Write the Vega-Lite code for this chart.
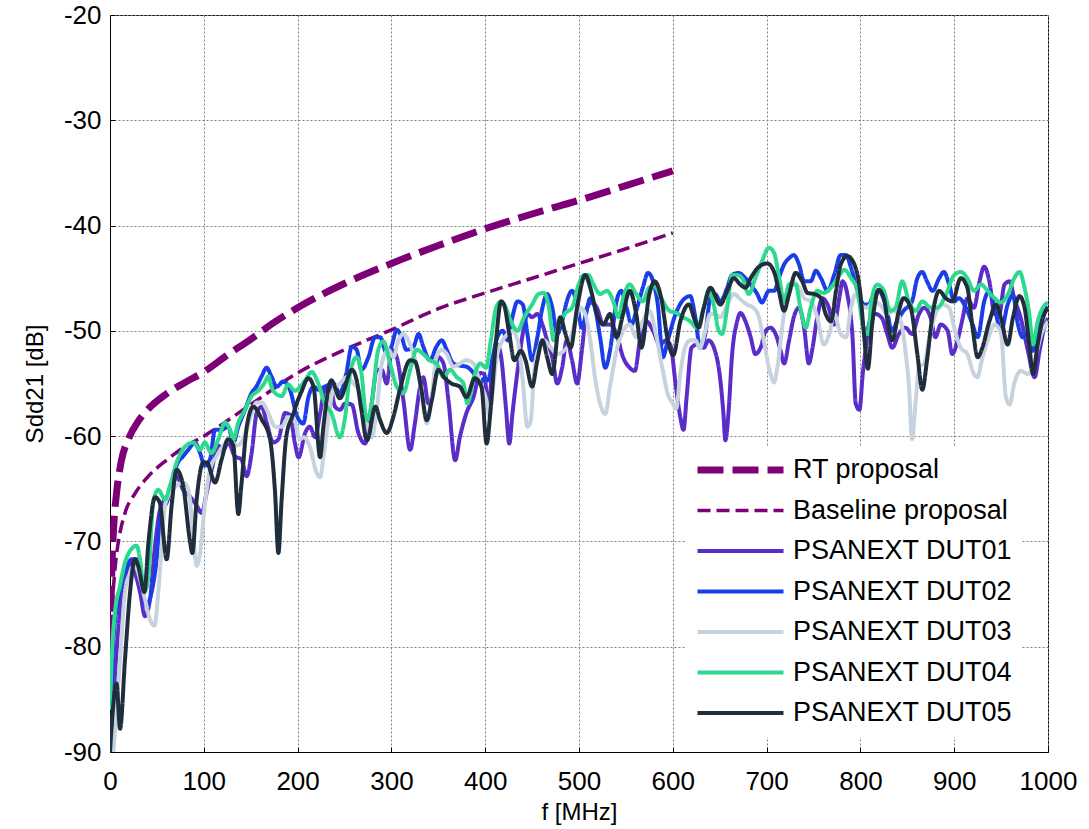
{
"$schema":"https://vega.github.io/schema/vega-lite/v6.json",
"width":938,"height":737,
"autosize":{"type":"none"},
"padding":{"left":110,"top":15,"right":41,"bottom":77},
"background":"white",
"config":{
 "font":"Liberation Sans",
 "view":{"stroke":"#000","strokeWidth":1},
 "axis":{"domainColor":"#000","domainWidth":1,"tickColor":"#000","tickSize":-5,"labelColor":"#000","titleColor":"#000","labelFontSize":26,"titleFontSize":24,"titleFontWeight":"normal","gridColor":"#808080","gridDash":[2,2],"gridWidth":1}
},
"data":{"values":[
{"series":"RT proposal","f":0.5,"db":-80},{"series":"RT proposal","f":1,"db":-76.5},{"series":"RT proposal","f":2,"db":-72.5},{"series":"RT proposal","f":4,"db":-68.5},{"series":"RT proposal","f":7,"db":-65.4},{"series":"RT proposal","f":12,"db":-62.4},{"series":"RT proposal","f":20,"db":-60.2},{"series":"RT proposal","f":30,"db":-58.6},{"series":"RT proposal","f":40,"db":-57.5},{"series":"RT proposal","f":60,"db":-56},{"series":"RT proposal","f":80,"db":-54.9},{"series":"RT proposal","f":100,"db":-53.9},{"series":"RT proposal","f":125,"db":-52.3},{"series":"RT proposal","f":150,"db":-50.8},{"series":"RT proposal","f":175,"db":-49.2},{"series":"RT proposal","f":200,"db":-47.8},{"series":"RT proposal","f":250,"db":-45.5},{"series":"RT proposal","f":300,"db":-43.6},{"series":"RT proposal","f":350,"db":-41.9},{"series":"RT proposal","f":400,"db":-40.3},{"series":"RT proposal","f":450,"db":-38.9},{"series":"RT proposal","f":500,"db":-37.6},{"series":"RT proposal","f":550,"db":-36.2},{"series":"RT proposal","f":600,"db":-34.8},
{"series":"Baseline proposal","f":1,"db":-80},{"series":"Baseline proposal","f":2,"db":-77},{"series":"Baseline proposal","f":4,"db":-74},{"series":"Baseline proposal","f":6,"db":-72},{"series":"Baseline proposal","f":9,"db":-70},{"series":"Baseline proposal","f":16,"db":-67.3},{"series":"Baseline proposal","f":27,"db":-65.4},{"series":"Baseline proposal","f":41,"db":-63.8},{"series":"Baseline proposal","f":60,"db":-62.3},{"series":"Baseline proposal","f":80,"db":-61},{"series":"Baseline proposal","f":100,"db":-60},{"series":"Baseline proposal","f":150,"db":-57},{"series":"Baseline proposal","f":200,"db":-54},{"series":"Baseline proposal","f":250,"db":-51.8},{"series":"Baseline proposal","f":300,"db":-49.9},{"series":"Baseline proposal","f":350,"db":-47.9},{"series":"Baseline proposal","f":400,"db":-46.4},{"series":"Baseline proposal","f":450,"db":-45},{"series":"Baseline proposal","f":500,"db":-43.6},{"series":"Baseline proposal","f":550,"db":-42.2},{"series":"Baseline proposal","f":600,"db":-40.7},
{"series":"PSANEXT DUT01","f":1.8,"db":-88.4},{"series":"PSANEXT DUT01","f":5.3,"db":-82.7},{"series":"PSANEXT DUT01","f":10.7,"db":-76.7},{"series":"PSANEXT DUT01","f":16,"db":-73.6},{"series":"PSANEXT DUT01","f":21.3,"db":-72},{"series":"PSANEXT DUT01","f":26.7,"db":-73},{"series":"PSANEXT DUT01","f":32,"db":-74.8},{"series":"PSANEXT DUT01","f":37.3,"db":-77.1},{"series":"PSANEXT DUT01","f":42.6,"db":-75.5},{"series":"PSANEXT DUT01","f":48,"db":-70.4},{"series":"PSANEXT DUT01","f":53.3,"db":-67},{"series":"PSANEXT DUT01","f":58.6,"db":-66},{"series":"PSANEXT DUT01","f":65.7,"db":-65.1},{"series":"PSANEXT DUT01","f":71,"db":-63.8},{"series":"PSANEXT DUT01","f":78,"db":-65.1},{"series":"PSANEXT DUT01","f":85,"db":-65.7},{"series":"PSANEXT DUT01","f":92.4,"db":-66.6},{"series":"PSANEXT DUT01","f":97.7,"db":-67.3},{"series":"PSANEXT DUT01","f":103,"db":-65.4},{"series":"PSANEXT DUT01","f":108.4,"db":-63.2},{"series":"PSANEXT DUT01","f":115.5,"db":-60.9},{"series":"PSANEXT DUT01","f":120.8,"db":-61.3},{"series":"PSANEXT DUT01","f":126,"db":-60.6},{"series":"PSANEXT DUT01","f":133,"db":-61.9},{"series":"PSANEXT DUT01","f":140,"db":-62.2},{"series":"PSANEXT DUT01","f":145.7,"db":-63.8},{"series":"PSANEXT DUT01","f":151,"db":-61.6},{"series":"PSANEXT DUT01","f":156.4,"db":-57.8},{"series":"PSANEXT DUT01","f":161.7,"db":-57.2},{"series":"PSANEXT DUT01","f":167,"db":-58.7},{"series":"PSANEXT DUT01","f":174,"db":-60.6},{"series":"PSANEXT DUT01","f":179.5,"db":-60.3},{"series":"PSANEXT DUT01","f":186.6,"db":-57.8},{"series":"PSANEXT DUT01","f":192,"db":-58},{"series":"PSANEXT DUT01","f":197,"db":-60.6},{"series":"PSANEXT DUT01","f":201,"db":-62},{"series":"PSANEXT DUT01","f":208,"db":-59.7},{"series":"PSANEXT DUT01","f":213,"db":-59.1},{"series":"PSANEXT DUT01","f":218.7,"db":-60.1},{"series":"PSANEXT DUT01","f":224,"db":-57.8},{"series":"PSANEXT DUT01","f":229,"db":-55.6},{"series":"PSANEXT DUT01","f":234.6,"db":-55.3},{"series":"PSANEXT DUT01","f":240,"db":-57.2},{"series":"PSANEXT DUT01","f":245.3,"db":-57.5},{"series":"PSANEXT DUT01","f":250.6,"db":-56.9},{"series":"PSANEXT DUT01","f":257.7,"db":-57},{"series":"PSANEXT DUT01","f":264.8,"db":-59.7},{"series":"PSANEXT DUT01","f":272,"db":-60.7},{"series":"PSANEXT DUT01","f":279,"db":-56.9},{"series":"PSANEXT DUT01","f":284.4,"db":-53.7},{"series":"PSANEXT DUT01","f":289.7,"db":-53.7},{"series":"PSANEXT DUT01","f":295,"db":-55},{"series":"PSANEXT DUT01","f":300.4,"db":-51.8},{"series":"PSANEXT DUT01","f":305.7,"db":-52.5},{"series":"PSANEXT DUT01","f":312.8,"db":-56.6},{"series":"PSANEXT DUT01","f":320,"db":-61.3},{"series":"PSANEXT DUT01","f":325,"db":-58.8},{"series":"PSANEXT DUT01","f":330.6,"db":-55.3},{"series":"PSANEXT DUT01","f":334,"db":-54.4},{"series":"PSANEXT DUT01","f":339.5,"db":-56.9},{"series":"PSANEXT DUT01","f":344.8,"db":-55.6},{"series":"PSANEXT DUT01","f":350,"db":-52.5},{"series":"PSANEXT DUT01","f":355.5,"db":-53.1},{"series":"PSANEXT DUT01","f":360.8,"db":-56.6},{"series":"PSANEXT DUT01","f":368,"db":-62.3},{"series":"PSANEXT DUT01","f":373,"db":-60.1},{"series":"PSANEXT DUT01","f":380,"db":-57.8},{"series":"PSANEXT DUT01","f":387.5,"db":-56.3},{"series":"PSANEXT DUT01","f":394.6,"db":-54},{"series":"PSANEXT DUT01","f":399,"db":-54.1},{"series":"PSANEXT DUT01","f":403,"db":-57.2},{"series":"PSANEXT DUT01","f":408,"db":-53.5},{"series":"PSANEXT DUT01","f":413,"db":-51.3},{"series":"PSANEXT DUT01","f":417,"db":-52.5},{"series":"PSANEXT DUT01","f":422,"db":-57.2},{"series":"PSANEXT DUT01","f":425.7,"db":-60.7},{"series":"PSANEXT DUT01","f":429,"db":-57.9},{"series":"PSANEXT DUT01","f":434.5,"db":-53.8},{"series":"PSANEXT DUT01","f":440,"db":-50.3},{"series":"PSANEXT DUT01","f":445,"db":-48.4},{"series":"PSANEXT DUT01","f":450,"db":-48.7},{"series":"PSANEXT DUT01","f":455.6,"db":-48.4},{"series":"PSANEXT DUT01","f":461,"db":-49.4},{"series":"PSANEXT DUT01","f":466,"db":-50.9},{"series":"PSANEXT DUT01","f":471.5,"db":-52.5},{"series":"PSANEXT DUT01","f":476.8,"db":-55},{"series":"PSANEXT DUT01","f":482,"db":-53.5},{"series":"PSANEXT DUT01","f":487,"db":-50.9},{"series":"PSANEXT DUT01","f":492.6,"db":-52.8},{"series":"PSANEXT DUT01","f":498,"db":-55},{"series":"PSANEXT DUT01","f":503,"db":-51.9},{"series":"PSANEXT DUT01","f":508.5,"db":-47.8},{"series":"PSANEXT DUT01","f":514,"db":-47.3},{"series":"PSANEXT DUT01","f":519,"db":-47.8},{"series":"PSANEXT DUT01","f":526,"db":-49.4},{"series":"PSANEXT DUT01","f":533,"db":-49.4},{"series":"PSANEXT DUT01","f":540,"db":-50.3},{"series":"PSANEXT DUT01","f":547,"db":-52.5},{"series":"PSANEXT DUT01","f":554,"db":-53.5},{"series":"PSANEXT DUT01","f":559.5,"db":-53.8},{"series":"PSANEXT DUT01","f":565,"db":-50.9},{"series":"PSANEXT DUT01","f":572,"db":-49.1},{"series":"PSANEXT DUT01","f":579,"db":-50},{"series":"PSANEXT DUT01","f":586,"db":-51.3},{"series":"PSANEXT DUT01","f":593,"db":-50.9},{"series":"PSANEXT DUT01","f":598,"db":-51.5},{"series":"PSANEXT DUT01","f":602.5,"db":-54.7},{"series":"PSANEXT DUT01","f":608,"db":-58.2},{"series":"PSANEXT DUT01","f":611.4,"db":-59.4},{"series":"PSANEXT DUT01","f":615,"db":-56},{"series":"PSANEXT DUT01","f":620,"db":-51.6},{"series":"PSANEXT DUT01","f":625.7,"db":-51.3},{"series":"PSANEXT DUT01","f":633,"db":-51.6},{"series":"PSANEXT DUT01","f":638,"db":-50.9},{"series":"PSANEXT DUT01","f":645,"db":-51.9},{"series":"PSANEXT DUT01","f":650.7,"db":-54.7},{"series":"PSANEXT DUT01","f":654,"db":-57.9},{"series":"PSANEXT DUT01","f":656,"db":-60.4},{"series":"PSANEXT DUT01","f":659.6,"db":-57.5},{"series":"PSANEXT DUT01","f":663,"db":-52.5},{"series":"PSANEXT DUT01","f":668.6,"db":-49.1},{"series":"PSANEXT DUT01","f":672,"db":-48.3},{"series":"PSANEXT DUT01","f":677.5,"db":-49.1},{"series":"PSANEXT DUT01","f":683,"db":-50.6},{"series":"PSANEXT DUT01","f":688,"db":-52.2},{"series":"PSANEXT DUT01","f":693.6,"db":-51.6},{"series":"PSANEXT DUT01","f":699,"db":-50},{"series":"PSANEXT DUT01","f":704,"db":-49.7},{"series":"PSANEXT DUT01","f":709.6,"db":-50.3},{"series":"PSANEXT DUT01","f":715,"db":-51.9},{"series":"PSANEXT DUT01","f":718.6,"db":-53.1},{"series":"PSANEXT DUT01","f":724,"db":-50.9},{"series":"PSANEXT DUT01","f":729,"db":-48.7},{"series":"PSANEXT DUT01","f":734.6,"db":-47.8},{"series":"PSANEXT DUT01","f":740,"db":-49.7},{"series":"PSANEXT DUT01","f":745,"db":-53.1},{"series":"PSANEXT DUT01","f":749,"db":-51.6},{"series":"PSANEXT DUT01","f":754,"db":-48.7},{"series":"PSANEXT DUT01","f":759.6,"db":-46.9},{"series":"PSANEXT DUT01","f":765,"db":-47.5},{"series":"PSANEXT DUT01","f":772,"db":-49.4},{"series":"PSANEXT DUT01","f":777.5,"db":-46.9},{"series":"PSANEXT DUT01","f":781,"db":-45.3},{"series":"PSANEXT DUT01","f":786,"db":-46.5},{"series":"PSANEXT DUT01","f":791.8,"db":-50.9},{"series":"PSANEXT DUT01","f":795,"db":-56.9},{"series":"PSANEXT DUT01","f":799,"db":-57.5},{"series":"PSANEXT DUT01","f":802.5,"db":-54.1},{"series":"PSANEXT DUT01","f":806,"db":-51.5},{"series":"PSANEXT DUT01","f":809,"db":-49.4},{"series":"PSANEXT DUT01","f":816,"db":-48.4},{"series":"PSANEXT DUT01","f":823,"db":-48.8},{"series":"PSANEXT DUT01","f":828.6,"db":-50.3},{"series":"PSANEXT DUT01","f":834,"db":-51.6},{"series":"PSANEXT DUT01","f":841,"db":-50.3},{"series":"PSANEXT DUT01","f":848,"db":-49.7},{"series":"PSANEXT DUT01","f":855,"db":-50.3},{"series":"PSANEXT DUT01","f":862.5,"db":-48.4},{"series":"PSANEXT DUT01","f":868,"db":-47.8},{"series":"PSANEXT DUT01","f":875,"db":-48.8},{"series":"PSANEXT DUT01","f":880,"db":-50.6},{"series":"PSANEXT DUT01","f":885.7,"db":-49.4},{"series":"PSANEXT DUT01","f":893,"db":-50},{"series":"PSANEXT DUT01","f":898,"db":-52.2},{"series":"PSANEXT DUT01","f":903.6,"db":-50.9},{"series":"PSANEXT DUT01","f":909,"db":-48.8},{"series":"PSANEXT DUT01","f":914,"db":-46.9},{"series":"PSANEXT DUT01","f":921,"db":-47.8},{"series":"PSANEXT DUT01","f":927,"db":-45.3},{"series":"PSANEXT DUT01","f":932,"db":-43.9},{"series":"PSANEXT DUT01","f":937.5,"db":-45.3},{"series":"PSANEXT DUT01","f":943,"db":-48.4},{"series":"PSANEXT DUT01","f":948,"db":-48.4},{"series":"PSANEXT DUT01","f":953.6,"db":-45.6},{"series":"PSANEXT DUT01","f":959,"db":-45.3},{"series":"PSANEXT DUT01","f":964,"db":-46.9},{"series":"PSANEXT DUT01","f":971,"db":-48.8},{"series":"PSANEXT DUT01","f":978.6,"db":-51.9},{"series":"PSANEXT DUT01","f":985.7,"db":-54.4},{"series":"PSANEXT DUT01","f":991,"db":-51.9},{"series":"PSANEXT DUT01","f":996,"db":-49.7},{"series":"PSANEXT DUT01","f":1000,"db":-48.8},
{"series":"PSANEXT DUT02","f":2,"db":-84},{"series":"PSANEXT DUT02","f":3.5,"db":-79.6},{"series":"PSANEXT DUT02","f":8.9,"db":-75.5},{"series":"PSANEXT DUT02","f":16,"db":-73},{"series":"PSANEXT DUT02","f":23,"db":-71.7},{"series":"PSANEXT DUT02","f":28.4,"db":-71.7},{"series":"PSANEXT DUT02","f":33.8,"db":-74.2},{"series":"PSANEXT DUT02","f":39,"db":-76.1},{"series":"PSANEXT DUT02","f":44.4,"db":-74.8},{"series":"PSANEXT DUT02","f":49.8,"db":-71.7},{"series":"PSANEXT DUT02","f":55,"db":-67},{"series":"PSANEXT DUT02","f":60.4,"db":-66.3},{"series":"PSANEXT DUT02","f":65.7,"db":-64.7},{"series":"PSANEXT DUT02","f":71,"db":-62.8},{"series":"PSANEXT DUT02","f":78,"db":-61.9},{"series":"PSANEXT DUT02","f":83.5,"db":-61.3},{"series":"PSANEXT DUT02","f":90.6,"db":-60.6},{"series":"PSANEXT DUT02","f":96,"db":-61.6},{"series":"PSANEXT DUT02","f":101,"db":-62.8},{"series":"PSANEXT DUT02","f":106.6,"db":-62.2},{"series":"PSANEXT DUT02","f":112,"db":-59.4},{"series":"PSANEXT DUT02","f":119,"db":-59.4},{"series":"PSANEXT DUT02","f":126,"db":-59.1},{"series":"PSANEXT DUT02","f":131.5,"db":-60.6},{"series":"PSANEXT DUT02","f":136.8,"db":-59.1},{"series":"PSANEXT DUT02","f":144,"db":-57.5},{"series":"PSANEXT DUT02","f":151,"db":-55.9},{"series":"PSANEXT DUT02","f":156,"db":-55.3},{"series":"PSANEXT DUT02","f":161.7,"db":-54.3},{"series":"PSANEXT DUT02","f":167,"db":-53.5},{"series":"PSANEXT DUT02","f":172,"db":-54.3},{"series":"PSANEXT DUT02","f":177.7,"db":-55.3},{"series":"PSANEXT DUT02","f":184.8,"db":-54.8},{"series":"PSANEXT DUT02","f":191.9,"db":-55.6},{"series":"PSANEXT DUT02","f":199,"db":-58},{"series":"PSANEXT DUT02","f":206,"db":-58.8},{"series":"PSANEXT DUT02","f":211.5,"db":-56.3},{"series":"PSANEXT DUT02","f":217,"db":-55.3},{"series":"PSANEXT DUT02","f":222,"db":-55.6},{"series":"PSANEXT DUT02","f":229,"db":-55.3},{"series":"PSANEXT DUT02","f":238,"db":-55},{"series":"PSANEXT DUT02","f":245,"db":-55.9},{"series":"PSANEXT DUT02","f":252,"db":-54},{"series":"PSANEXT DUT02","f":257.7,"db":-51.5},{"series":"PSANEXT DUT02","f":263,"db":-51.8},{"series":"PSANEXT DUT02","f":268,"db":-53.7},{"series":"PSANEXT DUT02","f":275.5,"db":-52.5},{"series":"PSANEXT DUT02","f":282.6,"db":-50.6},{"series":"PSANEXT DUT02","f":288,"db":-50.6},{"series":"PSANEXT DUT02","f":295,"db":-52.2},{"series":"PSANEXT DUT02","f":300,"db":-51.5},{"series":"PSANEXT DUT02","f":305.7,"db":-49.9},{"series":"PSANEXT DUT02","f":311,"db":-50.6},{"series":"PSANEXT DUT02","f":316,"db":-51.8},{"series":"PSANEXT DUT02","f":323.5,"db":-51.5},{"series":"PSANEXT DUT02","f":329,"db":-50.3},{"series":"PSANEXT DUT02","f":334,"db":-51.5},{"series":"PSANEXT DUT02","f":341,"db":-52.8},{"series":"PSANEXT DUT02","f":348,"db":-51.5},{"series":"PSANEXT DUT02","f":353.7,"db":-50.9},{"series":"PSANEXT DUT02","f":359,"db":-51.8},{"series":"PSANEXT DUT02","f":366,"db":-53.1},{"series":"PSANEXT DUT02","f":373,"db":-53.3},{"series":"PSANEXT DUT02","f":380,"db":-53.4},{"series":"PSANEXT DUT02","f":387.5,"db":-54},{"series":"PSANEXT DUT02","f":394.6,"db":-55},{"series":"PSANEXT DUT02","f":399,"db":-54.5},{"series":"PSANEXT DUT02","f":403,"db":-54.7},{"series":"PSANEXT DUT02","f":408,"db":-52.5},{"series":"PSANEXT DUT02","f":413,"db":-50.6},{"series":"PSANEXT DUT02","f":418.7,"db":-50},{"series":"PSANEXT DUT02","f":424,"db":-50.9},{"series":"PSANEXT DUT02","f":429,"db":-48.7},{"series":"PSANEXT DUT02","f":434.5,"db":-47.2},{"series":"PSANEXT DUT02","f":440,"db":-47.5},{"series":"PSANEXT DUT02","f":445,"db":-50.3},{"series":"PSANEXT DUT02","f":450,"db":-52.8},{"series":"PSANEXT DUT02","f":455.6,"db":-50.6},{"series":"PSANEXT DUT02","f":461,"db":-47.8},{"series":"PSANEXT DUT02","f":466,"db":-46.5},{"series":"PSANEXT DUT02","f":471.5,"db":-47.8},{"series":"PSANEXT DUT02","f":476.8,"db":-50.3},{"series":"PSANEXT DUT02","f":482,"db":-49.1},{"series":"PSANEXT DUT02","f":487,"db":-47.2},{"series":"PSANEXT DUT02","f":492.6,"db":-46.2},{"series":"PSANEXT DUT02","f":498,"db":-47.5},{"series":"PSANEXT DUT02","f":503,"db":-49.7},{"series":"PSANEXT DUT02","f":506.7,"db":-48.7},{"series":"PSANEXT DUT02","f":512,"db":-46.9},{"series":"PSANEXT DUT02","f":517,"db":-47.8},{"series":"PSANEXT DUT02","f":522.5,"db":-50.6},{"series":"PSANEXT DUT02","f":528,"db":-53.5},{"series":"PSANEXT DUT02","f":533,"db":-51.9},{"series":"PSANEXT DUT02","f":540,"db":-47.2},{"series":"PSANEXT DUT02","f":545,"db":-46.2},{"series":"PSANEXT DUT02","f":550.7,"db":-47.8},{"series":"PSANEXT DUT02","f":556,"db":-49.4},{"series":"PSANEXT DUT02","f":561,"db":-48.1},{"series":"PSANEXT DUT02","f":568,"db":-45.9},{"series":"PSANEXT DUT02","f":573.6,"db":-44.5},{"series":"PSANEXT DUT02","f":579,"db":-45.3},{"series":"PSANEXT DUT02","f":584,"db":-47.5},{"series":"PSANEXT DUT02","f":589.4,"db":-52.5},{"series":"PSANEXT DUT02","f":594.7,"db":-50.9},{"series":"PSANEXT DUT02","f":601.8,"db":-48.7},{"series":"PSANEXT DUT02","f":607,"db":-47.6},{"series":"PSANEXT DUT02","f":613,"db":-46.9},{"series":"PSANEXT DUT02","f":618.6,"db":-46.7},{"series":"PSANEXT DUT02","f":624,"db":-48.7},{"series":"PSANEXT DUT02","f":629,"db":-51.6},{"series":"PSANEXT DUT02","f":634.6,"db":-50.3},{"series":"PSANEXT DUT02","f":640,"db":-46.9},{"series":"PSANEXT DUT02","f":645,"db":-46.5},{"series":"PSANEXT DUT02","f":650.7,"db":-47.2},{"series":"PSANEXT DUT02","f":658,"db":-45.9},{"series":"PSANEXT DUT02","f":663,"db":-44.7},{"series":"PSANEXT DUT02","f":670,"db":-44.5},{"series":"PSANEXT DUT02","f":677.5,"db":-45},{"series":"PSANEXT DUT02","f":683,"db":-45.6},{"series":"PSANEXT DUT02","f":690,"db":-46.5},{"series":"PSANEXT DUT02","f":695,"db":-47.3},{"series":"PSANEXT DUT02","f":702.5,"db":-46.2},{"series":"PSANEXT DUT02","f":708,"db":-46.2},{"series":"PSANEXT DUT02","f":713,"db":-45},{"series":"PSANEXT DUT02","f":718.6,"db":-43.7},{"series":"PSANEXT DUT02","f":724,"db":-43.1},{"series":"PSANEXT DUT02","f":729,"db":-42.8},{"series":"PSANEXT DUT02","f":734.6,"db":-43.7},{"series":"PSANEXT DUT02","f":740,"db":-45.3},{"series":"PSANEXT DUT02","f":747,"db":-45.3},{"series":"PSANEXT DUT02","f":752.5,"db":-44.3},{"series":"PSANEXT DUT02","f":758,"db":-45},{"series":"PSANEXT DUT02","f":765,"db":-46.2},{"series":"PSANEXT DUT02","f":772,"db":-44.7},{"series":"PSANEXT DUT02","f":779,"db":-42.8},{"series":"PSANEXT DUT02","f":784.6,"db":-42.8},{"series":"PSANEXT DUT02","f":790,"db":-44},{"series":"PSANEXT DUT02","f":797,"db":-46.2},{"series":"PSANEXT DUT02","f":804,"db":-47.5},{"series":"PSANEXT DUT02","f":809,"db":-47.5},{"series":"PSANEXT DUT02","f":812.5,"db":-46.9},{"series":"PSANEXT DUT02","f":819.6,"db":-46.2},{"series":"PSANEXT DUT02","f":826.8,"db":-47.5},{"series":"PSANEXT DUT02","f":834,"db":-50},{"series":"PSANEXT DUT02","f":839,"db":-49.1},{"series":"PSANEXT DUT02","f":846,"db":-48.1},{"series":"PSANEXT DUT02","f":855,"db":-47.2},{"series":"PSANEXT DUT02","f":860.7,"db":-45},{"series":"PSANEXT DUT02","f":866,"db":-44.4},{"series":"PSANEXT DUT02","f":871,"db":-45.3},{"series":"PSANEXT DUT02","f":877,"db":-46.2},{"series":"PSANEXT DUT02","f":884,"db":-45},{"series":"PSANEXT DUT02","f":889,"db":-44.4},{"series":"PSANEXT DUT02","f":894.6,"db":-45.6},{"series":"PSANEXT DUT02","f":900,"db":-47.2},{"series":"PSANEXT DUT02","f":905,"db":-46.9},{"series":"PSANEXT DUT02","f":912.5,"db":-47.8},{"series":"PSANEXT DUT02","f":919.6,"db":-49.4},{"series":"PSANEXT DUT02","f":925,"db":-50.6},{"series":"PSANEXT DUT02","f":932,"db":-47.2},{"series":"PSANEXT DUT02","f":937.5,"db":-46.2},{"series":"PSANEXT DUT02","f":943,"db":-47.8},{"series":"PSANEXT DUT02","f":950,"db":-50},{"series":"PSANEXT DUT02","f":957,"db":-47.5},{"series":"PSANEXT DUT02","f":962.5,"db":-46.6},{"series":"PSANEXT DUT02","f":968,"db":-49.4},{"series":"PSANEXT DUT02","f":973,"db":-50.6},{"series":"PSANEXT DUT02","f":978.6,"db":-50.3},{"series":"PSANEXT DUT02","f":984,"db":-51.9},{"series":"PSANEXT DUT02","f":989,"db":-49.7},{"series":"PSANEXT DUT02","f":994.6,"db":-48.1},{"series":"PSANEXT DUT02","f":1000,"db":-47.8},
{"series":"PSANEXT DUT03","f":3.5,"db":-90},{"series":"PSANEXT DUT03","f":7,"db":-85.9},{"series":"PSANEXT DUT03","f":10.7,"db":-81.2},{"series":"PSANEXT DUT03","f":16,"db":-74.8},{"series":"PSANEXT DUT03","f":21.3,"db":-73},{"series":"PSANEXT DUT03","f":26.7,"db":-72.3},{"series":"PSANEXT DUT03","f":32,"db":-73.6},{"series":"PSANEXT DUT03","f":37.3,"db":-75.5},{"series":"PSANEXT DUT03","f":42.6,"db":-77.4},{"series":"PSANEXT DUT03","f":47.3,"db":-78},{"series":"PSANEXT DUT03","f":51.5,"db":-74.8},{"series":"PSANEXT DUT03","f":55,"db":-70.4},{"series":"PSANEXT DUT03","f":58.6,"db":-66.6},{"series":"PSANEXT DUT03","f":64,"db":-65.4},{"series":"PSANEXT DUT03","f":71,"db":-64.7},{"series":"PSANEXT DUT03","f":78,"db":-64.4},{"series":"PSANEXT DUT03","f":83.5,"db":-65.1},{"series":"PSANEXT DUT03","f":88.8,"db":-69.5},{"series":"PSANEXT DUT03","f":92.4,"db":-72.3},{"series":"PSANEXT DUT03","f":96,"db":-71.1},{"series":"PSANEXT DUT03","f":101,"db":-66.6},{"series":"PSANEXT DUT03","f":106.6,"db":-63.2},{"series":"PSANEXT DUT03","f":113.7,"db":-61.9},{"series":"PSANEXT DUT03","f":120.8,"db":-60.9},{"series":"PSANEXT DUT03","f":128,"db":-60.3},{"series":"PSANEXT DUT03","f":135,"db":-60.9},{"series":"PSANEXT DUT03","f":140,"db":-60.6},{"series":"PSANEXT DUT03","f":145.7,"db":-59.4},{"series":"PSANEXT DUT03","f":151,"db":-57.8},{"series":"PSANEXT DUT03","f":156.4,"db":-56.8},{"series":"PSANEXT DUT03","f":161.7,"db":-56.8},{"series":"PSANEXT DUT03","f":168.8,"db":-57.8},{"series":"PSANEXT DUT03","f":176,"db":-59.1},{"series":"PSANEXT DUT03","f":183,"db":-59.1},{"series":"PSANEXT DUT03","f":190,"db":-58.2},{"series":"PSANEXT DUT03","f":197,"db":-58.6},{"series":"PSANEXT DUT03","f":202.6,"db":-60.3},{"series":"PSANEXT DUT03","f":206,"db":-60.1},{"series":"PSANEXT DUT03","f":213,"db":-61},{"series":"PSANEXT DUT03","f":220.4,"db":-63.5},{"series":"PSANEXT DUT03","f":224,"db":-63.9},{"series":"PSANEXT DUT03","f":227.5,"db":-62},{"series":"PSANEXT DUT03","f":233,"db":-58.2},{"series":"PSANEXT DUT03","f":238,"db":-55.6},{"series":"PSANEXT DUT03","f":245.3,"db":-55},{"series":"PSANEXT DUT03","f":252.4,"db":-54.4},{"series":"PSANEXT DUT03","f":259.5,"db":-55},{"series":"PSANEXT DUT03","f":266.6,"db":-55.9},{"series":"PSANEXT DUT03","f":273.7,"db":-58.8},{"series":"PSANEXT DUT03","f":279,"db":-60.1},{"series":"PSANEXT DUT03","f":284.4,"db":-57.5},{"series":"PSANEXT DUT03","f":289.7,"db":-53.1},{"series":"PSANEXT DUT03","f":296.8,"db":-51.8},{"series":"PSANEXT DUT03","f":302,"db":-52.5},{"series":"PSANEXT DUT03","f":307.5,"db":-50.9},{"series":"PSANEXT DUT03","f":312.8,"db":-50.3},{"series":"PSANEXT DUT03","f":318,"db":-50.9},{"series":"PSANEXT DUT03","f":323.5,"db":-52.2},{"series":"PSANEXT DUT03","f":329,"db":-54.1},{"series":"PSANEXT DUT03","f":334,"db":-57.2},{"series":"PSANEXT DUT03","f":337.7,"db":-58.8},{"series":"PSANEXT DUT03","f":343,"db":-56.3},{"series":"PSANEXT DUT03","f":348,"db":-52.5},{"series":"PSANEXT DUT03","f":353.7,"db":-51.8},{"series":"PSANEXT DUT03","f":359,"db":-52.2},{"series":"PSANEXT DUT03","f":366,"db":-53.4},{"series":"PSANEXT DUT03","f":373,"db":-53.1},{"series":"PSANEXT DUT03","f":380,"db":-52.8},{"series":"PSANEXT DUT03","f":387.5,"db":-53.1},{"series":"PSANEXT DUT03","f":394.6,"db":-55},{"series":"PSANEXT DUT03","f":401,"db":-56.5},{"series":"PSANEXT DUT03","f":404.6,"db":-58.2},{"series":"PSANEXT DUT03","f":408,"db":-55.7},{"series":"PSANEXT DUT03","f":413,"db":-52.2},{"series":"PSANEXT DUT03","f":418.7,"db":-50.9},{"series":"PSANEXT DUT03","f":424,"db":-50.3},{"series":"PSANEXT DUT03","f":429,"db":-50},{"series":"PSANEXT DUT03","f":434.5,"db":-50.9},{"series":"PSANEXT DUT03","f":440,"db":-54.7},{"series":"PSANEXT DUT03","f":445,"db":-59.1},{"series":"PSANEXT DUT03","f":448.6,"db":-58.5},{"series":"PSANEXT DUT03","f":452,"db":-54.1},{"series":"PSANEXT DUT03","f":457.4,"db":-51.6},{"series":"PSANEXT DUT03","f":462.7,"db":-50.9},{"series":"PSANEXT DUT03","f":470,"db":-51.6},{"series":"PSANEXT DUT03","f":476.8,"db":-52.2},{"series":"PSANEXT DUT03","f":483.8,"db":-51.9},{"series":"PSANEXT DUT03","f":489,"db":-51.3},{"series":"PSANEXT DUT03","f":494,"db":-49.7},{"series":"PSANEXT DUT03","f":501.4,"db":-47.8},{"series":"PSANEXT DUT03","f":506.7,"db":-48.4},{"series":"PSANEXT DUT03","f":512,"db":-50.9},{"series":"PSANEXT DUT03","f":517,"db":-54.4},{"series":"PSANEXT DUT03","f":522.5,"db":-56.9},{"series":"PSANEXT DUT03","f":528,"db":-57.9},{"series":"PSANEXT DUT03","f":533,"db":-55.3},{"series":"PSANEXT DUT03","f":540,"db":-51.9},{"series":"PSANEXT DUT03","f":547,"db":-50},{"series":"PSANEXT DUT03","f":554,"db":-49.4},{"series":"PSANEXT DUT03","f":561,"db":-50.6},{"series":"PSANEXT DUT03","f":568,"db":-49.1},{"series":"PSANEXT DUT03","f":575,"db":-48.1},{"series":"PSANEXT DUT03","f":582,"db":-50.3},{"series":"PSANEXT DUT03","f":589.4,"db":-53.8},{"series":"PSANEXT DUT03","f":594.7,"db":-56},{"series":"PSANEXT DUT03","f":600,"db":-56.9},{"series":"PSANEXT DUT03","f":603.5,"db":-57.4},{"series":"PSANEXT DUT03","f":608,"db":-54.1},{"series":"PSANEXT DUT03","f":613,"db":-51.6},{"series":"PSANEXT DUT03","f":618.6,"db":-50.9},{"series":"PSANEXT DUT03","f":624,"db":-50.9},{"series":"PSANEXT DUT03","f":629,"db":-51.6},{"series":"PSANEXT DUT03","f":634.6,"db":-50},{"series":"PSANEXT DUT03","f":640,"db":-48.4},{"series":"PSANEXT DUT03","f":645,"db":-48.4},{"series":"PSANEXT DUT03","f":650.7,"db":-48.7},{"series":"PSANEXT DUT03","f":658,"db":-47.5},{"series":"PSANEXT DUT03","f":665,"db":-46.5},{"series":"PSANEXT DUT03","f":672,"db":-47},{"series":"PSANEXT DUT03","f":679,"db":-47.5},{"series":"PSANEXT DUT03","f":686,"db":-47.8},{"series":"PSANEXT DUT03","f":691.8,"db":-48.7},{"series":"PSANEXT DUT03","f":697,"db":-50.9},{"series":"PSANEXT DUT03","f":702.5,"db":-53.5},{"series":"PSANEXT DUT03","f":708,"db":-54.9},{"series":"PSANEXT DUT03","f":711.4,"db":-53.5},{"series":"PSANEXT DUT03","f":717,"db":-49.4},{"series":"PSANEXT DUT03","f":722,"db":-46.2},{"series":"PSANEXT DUT03","f":727.5,"db":-45.3},{"series":"PSANEXT DUT03","f":734.6,"db":-45.9},{"series":"PSANEXT DUT03","f":740,"db":-46.9},{"series":"PSANEXT DUT03","f":747,"db":-47.2},{"series":"PSANEXT DUT03","f":754,"db":-48.7},{"series":"PSANEXT DUT03","f":761,"db":-51.3},{"series":"PSANEXT DUT03","f":766.8,"db":-50.3},{"series":"PSANEXT DUT03","f":772,"db":-48.4},{"series":"PSANEXT DUT03","f":779,"db":-50.3},{"series":"PSANEXT DUT03","f":784.6,"db":-50.6},{"series":"PSANEXT DUT03","f":790,"db":-47.8},{"series":"PSANEXT DUT03","f":795,"db":-46.5},{"series":"PSANEXT DUT03","f":800.7,"db":-47.5},{"series":"PSANEXT DUT03","f":807,"db":-47.8},{"series":"PSANEXT DUT03","f":814,"db":-47.2},{"series":"PSANEXT DUT03","f":821,"db":-47.5},{"series":"PSANEXT DUT03","f":828.6,"db":-48.4},{"series":"PSANEXT DUT03","f":835.7,"db":-48.1},{"series":"PSANEXT DUT03","f":843,"db":-49.1},{"series":"PSANEXT DUT03","f":848,"db":-51.9},{"series":"PSANEXT DUT03","f":852,"db":-55.6},{"series":"PSANEXT DUT03","f":855,"db":-60.3},{"series":"PSANEXT DUT03","f":859,"db":-56.6},{"series":"PSANEXT DUT03","f":862.5,"db":-53.4},{"series":"PSANEXT DUT03","f":868,"db":-53.1},{"series":"PSANEXT DUT03","f":873,"db":-50.9},{"series":"PSANEXT DUT03","f":880,"db":-48.4},{"series":"PSANEXT DUT03","f":887.5,"db":-47.5},{"series":"PSANEXT DUT03","f":894.6,"db":-47.8},{"series":"PSANEXT DUT03","f":900,"db":-49.7},{"series":"PSANEXT DUT03","f":907,"db":-51.6},{"series":"PSANEXT DUT03","f":914,"db":-52.2},{"series":"PSANEXT DUT03","f":921,"db":-54.1},{"series":"PSANEXT DUT03","f":925,"db":-54.4},{"series":"PSANEXT DUT03","f":928.6,"db":-53.1},{"series":"PSANEXT DUT03","f":935.7,"db":-50.9},{"series":"PSANEXT DUT03","f":943,"db":-49.4},{"series":"PSANEXT DUT03","f":950,"db":-50.3},{"series":"PSANEXT DUT03","f":955,"db":-56.2},{"series":"PSANEXT DUT03","f":959,"db":-57},{"series":"PSANEXT DUT03","f":964,"db":-55},{"series":"PSANEXT DUT03","f":971,"db":-53.8},{"series":"PSANEXT DUT03","f":978.6,"db":-54.1},{"series":"PSANEXT DUT03","f":985.7,"db":-52.8},{"series":"PSANEXT DUT03","f":993,"db":-50.3},{"series":"PSANEXT DUT03","f":1000,"db":-49.1},
{"series":"PSANEXT DUT04","f":0,"db":-86},{"series":"PSANEXT DUT04","f":1.8,"db":-81.2},{"series":"PSANEXT DUT04","f":5.3,"db":-76.7},{"series":"PSANEXT DUT04","f":10.7,"db":-74.2},{"series":"PSANEXT DUT04","f":16,"db":-72},{"series":"PSANEXT DUT04","f":23,"db":-70.7},{"series":"PSANEXT DUT04","f":28.4,"db":-70.4},{"series":"PSANEXT DUT04","f":32,"db":-71.7},{"series":"PSANEXT DUT04","f":36.6,"db":-74.8},{"series":"PSANEXT DUT04","f":41,"db":-73.3},{"series":"PSANEXT DUT04","f":46,"db":-66.3},{"series":"PSANEXT DUT04","f":51.5,"db":-65.1},{"series":"PSANEXT DUT04","f":58.6,"db":-66},{"series":"PSANEXT DUT04","f":64,"db":-64.7},{"series":"PSANEXT DUT04","f":71,"db":-62.5},{"series":"PSANEXT DUT04","f":80,"db":-61},{"series":"PSANEXT DUT04","f":88.8,"db":-60.6},{"series":"PSANEXT DUT04","f":96,"db":-61.3},{"series":"PSANEXT DUT04","f":101,"db":-60.6},{"series":"PSANEXT DUT04","f":108,"db":-61.6},{"series":"PSANEXT DUT04","f":115.5,"db":-60.3},{"series":"PSANEXT DUT04","f":122.6,"db":-58.7},{"series":"PSANEXT DUT04","f":128,"db":-59.4},{"series":"PSANEXT DUT04","f":131.5,"db":-60.3},{"series":"PSANEXT DUT04","f":136.8,"db":-58.7},{"series":"PSANEXT DUT04","f":144,"db":-57.5},{"series":"PSANEXT DUT04","f":151,"db":-56.2},{"series":"PSANEXT DUT04","f":158,"db":-55.7},{"series":"PSANEXT DUT04","f":165,"db":-54.9},{"series":"PSANEXT DUT04","f":169,"db":-54.3},{"series":"PSANEXT DUT04","f":172,"db":-55.3},{"series":"PSANEXT DUT04","f":176,"db":-55.9},{"series":"PSANEXT DUT04","f":183,"db":-56.2},{"series":"PSANEXT DUT04","f":190,"db":-55.1},{"series":"PSANEXT DUT04","f":197,"db":-55.7},{"series":"PSANEXT DUT04","f":202.7,"db":-55.3},{"series":"PSANEXT DUT04","f":208,"db":-54.7},{"series":"PSANEXT DUT04","f":215,"db":-53.9},{"series":"PSANEXT DUT04","f":222,"db":-55},{"series":"PSANEXT DUT04","f":229,"db":-56.9},{"series":"PSANEXT DUT04","f":236,"db":-57.8},{"series":"PSANEXT DUT04","f":245,"db":-60.1},{"series":"PSANEXT DUT04","f":250.6,"db":-58.2},{"series":"PSANEXT DUT04","f":256,"db":-54},{"series":"PSANEXT DUT04","f":263,"db":-52.5},{"series":"PSANEXT DUT04","f":268,"db":-54},{"series":"PSANEXT DUT04","f":273.7,"db":-58.5},{"series":"PSANEXT DUT04","f":279,"db":-56.9},{"series":"PSANEXT DUT04","f":286,"db":-51.8},{"series":"PSANEXT DUT04","f":291.5,"db":-51},{"series":"PSANEXT DUT04","f":298.6,"db":-53.1},{"series":"PSANEXT DUT04","f":305.7,"db":-55.3},{"series":"PSANEXT DUT04","f":312.8,"db":-55.9},{"series":"PSANEXT DUT04","f":320,"db":-53.7},{"series":"PSANEXT DUT04","f":327,"db":-51.8},{"series":"PSANEXT DUT04","f":334,"db":-52.2},{"series":"PSANEXT DUT04","f":341,"db":-52.8},{"series":"PSANEXT DUT04","f":348,"db":-53.1},{"series":"PSANEXT DUT04","f":355.5,"db":-54.4},{"series":"PSANEXT DUT04","f":362.6,"db":-53.7},{"series":"PSANEXT DUT04","f":369.7,"db":-54.4},{"series":"PSANEXT DUT04","f":376.8,"db":-55},{"series":"PSANEXT DUT04","f":381,"db":-56.9},{"series":"PSANEXT DUT04","f":388,"db":-54.4},{"series":"PSANEXT DUT04","f":394.6,"db":-53.1},{"series":"PSANEXT DUT04","f":401,"db":-53.5},{"series":"PSANEXT DUT04","f":406,"db":-50.9},{"series":"PSANEXT DUT04","f":411.6,"db":-47.8},{"series":"PSANEXT DUT04","f":417,"db":-47.2},{"series":"PSANEXT DUT04","f":422,"db":-47.8},{"series":"PSANEXT DUT04","f":427.5,"db":-49.1},{"series":"PSANEXT DUT04","f":434.5,"db":-50},{"series":"PSANEXT DUT04","f":441.5,"db":-48.7},{"series":"PSANEXT DUT04","f":450,"db":-47.5},{"series":"PSANEXT DUT04","f":457,"db":-46.5},{"series":"PSANEXT DUT04","f":462.7,"db":-46.4},{"series":"PSANEXT DUT04","f":468,"db":-47.8},{"series":"PSANEXT DUT04","f":473,"db":-50.9},{"series":"PSANEXT DUT04","f":478.5,"db":-49.4},{"series":"PSANEXT DUT04","f":485.6,"db":-48.3},{"series":"PSANEXT DUT04","f":492.6,"db":-47.8},{"series":"PSANEXT DUT04","f":499.6,"db":-45.6},{"series":"PSANEXT DUT04","f":505,"db":-44.7},{"series":"PSANEXT DUT04","f":510,"db":-44.7},{"series":"PSANEXT DUT04","f":515.5,"db":-45.6},{"series":"PSANEXT DUT04","f":522.5,"db":-46.5},{"series":"PSANEXT DUT04","f":529.6,"db":-46.2},{"series":"PSANEXT DUT04","f":536.6,"db":-47.2},{"series":"PSANEXT DUT04","f":542,"db":-48.7},{"series":"PSANEXT DUT04","f":547,"db":-46.9},{"series":"PSANEXT DUT04","f":554,"db":-45.6},{"series":"PSANEXT DUT04","f":561,"db":-46.5},{"series":"PSANEXT DUT04","f":568,"db":-47.2},{"series":"PSANEXT DUT04","f":575,"db":-45.9},{"series":"PSANEXT DUT04","f":580.6,"db":-45.8},{"series":"PSANEXT DUT04","f":587.7,"db":-46.9},{"series":"PSANEXT DUT04","f":596.5,"db":-48.1},{"series":"PSANEXT DUT04","f":604,"db":-48.3},{"series":"PSANEXT DUT04","f":611,"db":-48.7},{"series":"PSANEXT DUT04","f":618.6,"db":-49.1},{"series":"PSANEXT DUT04","f":625.7,"db":-49.7},{"series":"PSANEXT DUT04","f":633,"db":-47.8},{"series":"PSANEXT DUT04","f":638,"db":-46.2},{"series":"PSANEXT DUT04","f":643.6,"db":-47.5},{"series":"PSANEXT DUT04","f":649,"db":-50},{"series":"PSANEXT DUT04","f":652.5,"db":-50.3},{"series":"PSANEXT DUT04","f":658,"db":-47.8},{"series":"PSANEXT DUT04","f":663,"db":-44.7},{"series":"PSANEXT DUT04","f":668.6,"db":-44.7},{"series":"PSANEXT DUT04","f":674,"db":-45},{"series":"PSANEXT DUT04","f":681,"db":-46.5},{"series":"PSANEXT DUT04","f":688,"db":-45},{"series":"PSANEXT DUT04","f":695,"db":-43.4},{"series":"PSANEXT DUT04","f":702.5,"db":-42.1},{"series":"PSANEXT DUT04","f":708,"db":-42.6},{"series":"PSANEXT DUT04","f":713,"db":-44.7},{"series":"PSANEXT DUT04","f":718.6,"db":-47.2},{"series":"PSANEXT DUT04","f":724,"db":-45.6},{"series":"PSANEXT DUT04","f":731,"db":-45.6},{"series":"PSANEXT DUT04","f":736,"db":-47.8},{"series":"PSANEXT DUT04","f":741.8,"db":-49.7},{"series":"PSANEXT DUT04","f":747,"db":-47.8},{"series":"PSANEXT DUT04","f":754,"db":-46.2},{"series":"PSANEXT DUT04","f":761,"db":-46.4},{"series":"PSANEXT DUT04","f":768.6,"db":-45.9},{"series":"PSANEXT DUT04","f":775.7,"db":-45},{"series":"PSANEXT DUT04","f":783,"db":-44.2},{"series":"PSANEXT DUT04","f":790,"db":-45},{"series":"PSANEXT DUT04","f":797,"db":-46.2},{"series":"PSANEXT DUT04","f":802.5,"db":-49.4},{"series":"PSANEXT DUT04","f":808,"db":-50.3},{"series":"PSANEXT DUT04","f":812,"db":-47},{"series":"PSANEXT DUT04","f":818,"db":-45.6},{"series":"PSANEXT DUT04","f":825,"db":-46.2},{"series":"PSANEXT DUT04","f":832,"db":-48.1},{"series":"PSANEXT DUT04","f":837.5,"db":-47.8},{"series":"PSANEXT DUT04","f":844.6,"db":-45.3},{"series":"PSANEXT DUT04","f":851.8,"db":-47.2},{"series":"PSANEXT DUT04","f":859,"db":-48.1},{"series":"PSANEXT DUT04","f":866,"db":-47.2},{"series":"PSANEXT DUT04","f":875,"db":-47.8},{"series":"PSANEXT DUT04","f":882,"db":-47.8},{"series":"PSANEXT DUT04","f":891,"db":-46.6},{"series":"PSANEXT DUT04","f":900,"db":-44.7},{"series":"PSANEXT DUT04","f":907,"db":-44.4},{"series":"PSANEXT DUT04","f":914,"db":-45},{"series":"PSANEXT DUT04","f":921,"db":-46.2},{"series":"PSANEXT DUT04","f":928.6,"db":-45.6},{"series":"PSANEXT DUT04","f":935.7,"db":-46.2},{"series":"PSANEXT DUT04","f":943,"db":-46.9},{"series":"PSANEXT DUT04","f":950,"db":-47.3},{"series":"PSANEXT DUT04","f":957,"db":-46.6},{"series":"PSANEXT DUT04","f":964,"db":-45},{"series":"PSANEXT DUT04","f":969.6,"db":-44.4},{"series":"PSANEXT DUT04","f":975,"db":-45.9},{"series":"PSANEXT DUT04","f":980,"db":-48.4},{"series":"PSANEXT DUT04","f":984,"db":-51.3},{"series":"PSANEXT DUT04","f":989,"db":-49.1},{"series":"PSANEXT DUT04","f":994.6,"db":-47.8},{"series":"PSANEXT DUT04","f":1000,"db":-47.3},
{"series":"PSANEXT DUT05","f":0,"db":-90},{"series":"PSANEXT DUT05","f":3,"db":-86},{"series":"PSANEXT DUT05","f":7,"db":-83.5},{"series":"PSANEXT DUT05","f":10.7,"db":-87.8},{"series":"PSANEXT DUT05","f":16,"db":-81.2},{"series":"PSANEXT DUT05","f":21.3,"db":-74.9},{"series":"PSANEXT DUT05","f":26.6,"db":-71.7},{"series":"PSANEXT DUT05","f":30,"db":-72.3},{"series":"PSANEXT DUT05","f":36.6,"db":-74.8},{"series":"PSANEXT DUT05","f":41,"db":-70.1},{"series":"PSANEXT DUT05","f":48,"db":-65.8},{"series":"PSANEXT DUT05","f":53,"db":-66.3},{"series":"PSANEXT DUT05","f":60.4,"db":-71.7},{"series":"PSANEXT DUT05","f":65.7,"db":-66.6},{"series":"PSANEXT DUT05","f":71,"db":-63.2},{"series":"PSANEXT DUT05","f":78,"db":-64.7},{"series":"PSANEXT DUT05","f":85,"db":-69.8},{"series":"PSANEXT DUT05","f":87.8,"db":-71.1},{"series":"PSANEXT DUT05","f":92.4,"db":-66},{"series":"PSANEXT DUT05","f":99.5,"db":-62.5},{"series":"PSANEXT DUT05","f":103,"db":-62.5},{"series":"PSANEXT DUT05","f":112,"db":-64.4},{"series":"PSANEXT DUT05","f":119,"db":-62.2},{"series":"PSANEXT DUT05","f":126,"db":-60.3},{"series":"PSANEXT DUT05","f":131.5,"db":-60.9},{"series":"PSANEXT DUT05","f":136.8,"db":-67.4},{"series":"PSANEXT DUT05","f":140,"db":-64.7},{"series":"PSANEXT DUT05","f":146,"db":-59},{"series":"PSANEXT DUT05","f":152.8,"db":-57.2},{"series":"PSANEXT DUT05","f":161.7,"db":-58.4},{"series":"PSANEXT DUT05","f":170.6,"db":-60.3},{"series":"PSANEXT DUT05","f":176,"db":-65.4},{"series":"PSANEXT DUT05","f":179.5,"db":-71.1},{"series":"PSANEXT DUT05","f":183,"db":-66},{"series":"PSANEXT DUT05","f":188,"db":-60},{"series":"PSANEXT DUT05","f":195,"db":-58},{"series":"PSANEXT DUT05","f":199,"db":-56.9},{"series":"PSANEXT DUT05","f":204,"db":-55.8},{"series":"PSANEXT DUT05","f":211.5,"db":-54.5},{"series":"PSANEXT DUT05","f":217,"db":-55.3},{"series":"PSANEXT DUT05","f":224,"db":-62},{"series":"PSANEXT DUT05","f":227.5,"db":-59.1},{"series":"PSANEXT DUT05","f":236,"db":-54.7},{"series":"PSANEXT DUT05","f":245,"db":-56.4},{"series":"PSANEXT DUT05","f":258,"db":-53.7},{"series":"PSANEXT DUT05","f":263,"db":-54.7},{"series":"PSANEXT DUT05","f":268,"db":-57.5},{"series":"PSANEXT DUT05","f":274,"db":-60.4},{"series":"PSANEXT DUT05","f":283,"db":-57.2},{"series":"PSANEXT DUT05","f":288,"db":-58.5},{"series":"PSANEXT DUT05","f":295,"db":-59.7},{"series":"PSANEXT DUT05","f":302,"db":-58.2},{"series":"PSANEXT DUT05","f":309,"db":-55.6},{"series":"PSANEXT DUT05","f":320,"db":-52.8},{"series":"PSANEXT DUT05","f":325,"db":-52.9},{"series":"PSANEXT DUT05","f":332,"db":-55.6},{"series":"PSANEXT DUT05","f":337.7,"db":-58.5},{"series":"PSANEXT DUT05","f":343,"db":-56.6},{"series":"PSANEXT DUT05","f":350,"db":-53.7},{"series":"PSANEXT DUT05","f":357,"db":-54.5},{"series":"PSANEXT DUT05","f":364,"db":-55},{"series":"PSANEXT DUT05","f":373,"db":-55.3},{"series":"PSANEXT DUT05","f":380,"db":-56.3},{"series":"PSANEXT DUT05","f":389,"db":-54.5},{"series":"PSANEXT DUT05","f":396,"db":-55.3},{"series":"PSANEXT DUT05","f":401.5,"db":-60.7},{"series":"PSANEXT DUT05","f":406,"db":-57.2},{"series":"PSANEXT DUT05","f":411.6,"db":-50.9},{"series":"PSANEXT DUT05","f":417,"db":-47.2},{"series":"PSANEXT DUT05","f":420,"db":-47.5},{"series":"PSANEXT DUT05","f":425.7,"db":-50.3},{"series":"PSANEXT DUT05","f":431,"db":-52.8},{"series":"PSANEXT DUT05","f":438,"db":-51.9},{"series":"PSANEXT DUT05","f":443,"db":-52.8},{"series":"PSANEXT DUT05","f":450,"db":-55.3},{"series":"PSANEXT DUT05","f":455.6,"db":-52.8},{"series":"PSANEXT DUT05","f":461,"db":-50.9},{"series":"PSANEXT DUT05","f":466,"db":-52.5},{"series":"PSANEXT DUT05","f":471.5,"db":-54.1},{"series":"PSANEXT DUT05","f":480,"db":-48.7},{"series":"PSANEXT DUT05","f":485.6,"db":-50.3},{"series":"PSANEXT DUT05","f":491,"db":-51.6},{"series":"PSANEXT DUT05","f":498,"db":-47.8},{"series":"PSANEXT DUT05","f":506.7,"db":-44.7},{"series":"PSANEXT DUT05","f":512,"db":-45.9},{"series":"PSANEXT DUT05","f":519,"db":-48.4},{"series":"PSANEXT DUT05","f":526,"db":-49.4},{"series":"PSANEXT DUT05","f":533,"db":-48.4},{"series":"PSANEXT DUT05","f":540,"db":-50.6},{"series":"PSANEXT DUT05","f":547,"db":-48.4},{"series":"PSANEXT DUT05","f":554,"db":-46.2},{"series":"PSANEXT DUT05","f":561,"db":-48.4},{"series":"PSANEXT DUT05","f":566.5,"db":-51.6},{"series":"PSANEXT DUT05","f":575,"db":-46.5},{"series":"PSANEXT DUT05","f":580.6,"db":-45.3},{"series":"PSANEXT DUT05","f":587.7,"db":-46.9},{"series":"PSANEXT DUT05","f":594.7,"db":-50.9},{"series":"PSANEXT DUT05","f":600.5,"db":-52.3},{"series":"PSANEXT DUT05","f":608,"db":-49.1},{"series":"PSANEXT DUT05","f":617,"db":-47.5},{"series":"PSANEXT DUT05","f":624,"db":-49.1},{"series":"PSANEXT DUT05","f":627.5,"db":-49.7},{"series":"PSANEXT DUT05","f":633,"db":-47.8},{"series":"PSANEXT DUT05","f":640,"db":-45.9},{"series":"PSANEXT DUT05","f":650.7,"db":-47.5},{"series":"PSANEXT DUT05","f":658,"db":-46.2},{"series":"PSANEXT DUT05","f":665,"db":-45},{"series":"PSANEXT DUT05","f":672,"db":-45.6},{"series":"PSANEXT DUT05","f":677.5,"db":-45.9},{"series":"PSANEXT DUT05","f":683,"db":-45},{"series":"PSANEXT DUT05","f":692,"db":-43.9},{"series":"PSANEXT DUT05","f":700.7,"db":-43.6},{"series":"PSANEXT DUT05","f":708,"db":-44.4},{"series":"PSANEXT DUT05","f":713,"db":-46.2},{"series":"PSANEXT DUT05","f":718.6,"db":-48.1},{"series":"PSANEXT DUT05","f":724,"db":-46.5},{"series":"PSANEXT DUT05","f":731,"db":-44.5},{"series":"PSANEXT DUT05","f":738,"db":-45.3},{"series":"PSANEXT DUT05","f":743.6,"db":-46.4},{"series":"PSANEXT DUT05","f":750.7,"db":-46.5},{"series":"PSANEXT DUT05","f":758,"db":-46.9},{"series":"PSANEXT DUT05","f":763,"db":-48.4},{"series":"PSANEXT DUT05","f":768.6,"db":-49.1},{"series":"PSANEXT DUT05","f":774,"db":-46.2},{"series":"PSANEXT DUT05","f":779,"db":-43.7},{"series":"PSANEXT DUT05","f":786,"db":-42.9},{"series":"PSANEXT DUT05","f":793.6,"db":-43.7},{"series":"PSANEXT DUT05","f":800,"db":-46.5},{"series":"PSANEXT DUT05","f":804,"db":-50.5},{"series":"PSANEXT DUT05","f":808,"db":-53.6},{"series":"PSANEXT DUT05","f":812.5,"db":-49.4},{"series":"PSANEXT DUT05","f":819.6,"db":-46.1},{"series":"PSANEXT DUT05","f":825,"db":-46.9},{"series":"PSANEXT DUT05","f":830,"db":-49.7},{"series":"PSANEXT DUT05","f":834,"db":-50.9},{"series":"PSANEXT DUT05","f":841,"db":-48.1},{"series":"PSANEXT DUT05","f":846,"db":-46.9},{"series":"PSANEXT DUT05","f":853.6,"db":-47.8},{"series":"PSANEXT DUT05","f":860.7,"db":-52.2},{"series":"PSANEXT DUT05","f":866,"db":-55.6},{"series":"PSANEXT DUT05","f":871,"db":-52.8},{"series":"PSANEXT DUT05","f":877,"db":-48.4},{"series":"PSANEXT DUT05","f":884,"db":-46.2},{"series":"PSANEXT DUT05","f":891,"db":-46.9},{"series":"PSANEXT DUT05","f":898,"db":-47.2},{"series":"PSANEXT DUT05","f":907,"db":-45},{"series":"PSANEXT DUT05","f":914,"db":-45.9},{"series":"PSANEXT DUT05","f":919.6,"db":-49.7},{"series":"PSANEXT DUT05","f":925,"db":-52.5},{"series":"PSANEXT DUT05","f":930,"db":-51.6},{"series":"PSANEXT DUT05","f":937.5,"db":-49.1},{"series":"PSANEXT DUT05","f":944.6,"db":-47.5},{"series":"PSANEXT DUT05","f":950,"db":-48.8},{"series":"PSANEXT DUT05","f":957,"db":-51.3},{"series":"PSANEXT DUT05","f":962.5,"db":-48.8},{"series":"PSANEXT DUT05","f":969.6,"db":-46.7},{"series":"PSANEXT DUT05","f":975,"db":-47.8},{"series":"PSANEXT DUT05","f":980,"db":-51.3},{"series":"PSANEXT DUT05","f":984,"db":-54.1},{"series":"PSANEXT DUT05","f":989,"db":-51.3},{"series":"PSANEXT DUT05","f":994.6,"db":-48.8},{"series":"PSANEXT DUT05","f":1000,"db":-47.8}
]},
"mark":{"type":"line","interpolate":"monotone","strokeJoin":"round","strokeCap":"butt","clip":true},
"encoding":{
 "x":{"field":"f","type":"quantitative","scale":{"domain":[0,1000],"nice":false,"zero":false},"axis":{"values":[0,100,200,300,400,500,600,700,800,900,1000],"labelExpr":"'' + datum.value","title":"f [MHz]","labelPadding":21,"titlePadding":6,"labelFlush":false}},
 "y":{"field":"db","type":"quantitative","scale":{"domain":[-90,-20],"nice":false,"zero":false},"axis":{"values":[-90,-80,-70,-60,-50,-40,-30,-20],"labelExpr":"'' + datum.value","title":"Sdd21 [dB]","labelPadding":14,"titlePadding":16,"labelFlush":false}},
 "color":{"field":"series","type":"nominal","scale":{"domain":["RT proposal","Baseline proposal","PSANEXT DUT01","PSANEXT DUT02","PSANEXT DUT03","PSANEXT DUT04","PSANEXT DUT05"],"range":["#7e0077","#7e0077","#5a2dc9","#1a3de8","#c6d2de","#2dd98e","#1f2d3d"]},
  "legend":{"title":null,"orient":"none","legendX":575,"legendY":431,"symbolType":"stroke","symbolSize":7396,"clipHeight":30,"rowPadding":10.5,"labelFontSize":27,"labelOffset":6,"labelLimit":400,"labelColor":"#000","fillColor":"white","padding":9,"symbolOpacity":1}},
 "strokeDash":{"field":"series","type":"nominal","scale":{"domain":["RT proposal","Baseline proposal","PSANEXT DUT01","PSANEXT DUT02","PSANEXT DUT03","PSANEXT DUT04","PSANEXT DUT05"],"range":[[26,9],[13,6],[1,0],[1,0],[1,0],[1,0],[1,0]]}},
 "strokeWidth":{"field":"series","type":"nominal","scale":{"type":"ordinal","domain":["RT proposal","Baseline proposal","PSANEXT DUT01","PSANEXT DUT02","PSANEXT DUT03","PSANEXT DUT04","PSANEXT DUT05"],"range":[7,3.5,4,4,4,4,4]}}
}
}
